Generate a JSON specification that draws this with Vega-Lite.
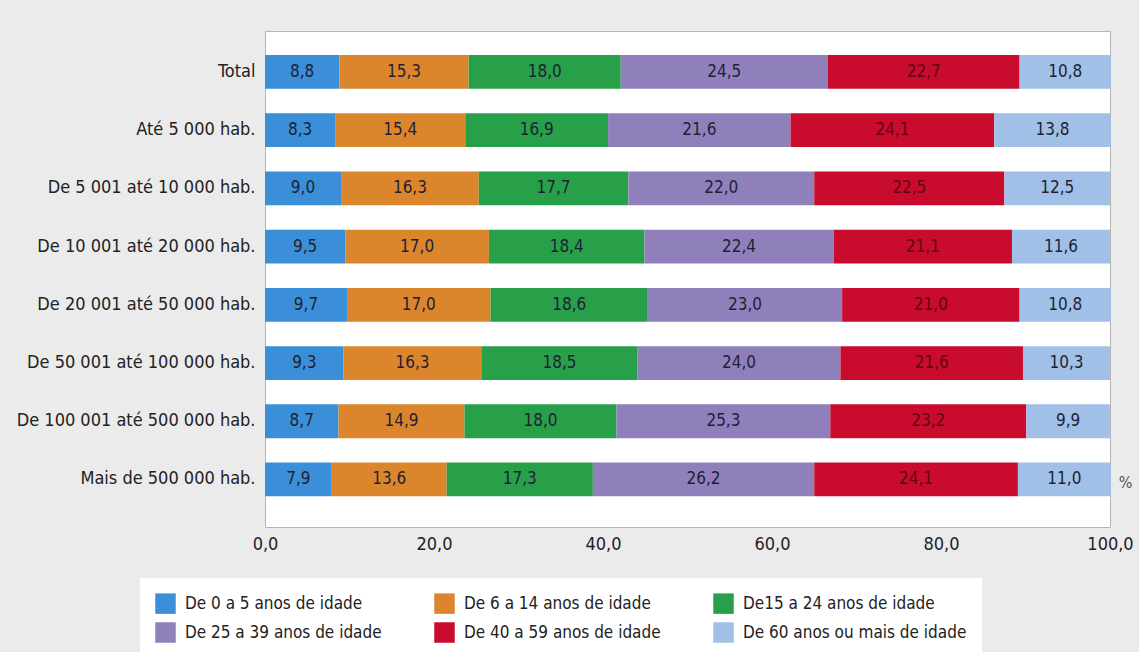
{
  "$schema": "https://vega.github.io/schema/vega-lite/v6.json",
  "autosize": {"type": "none"},
  "width": 845,
  "height": 496,
  "padding": {"left": 265, "top": 31, "right": 29, "bottom": 125},
  "background": "#ebebeb",
  "config": {
    "font": "DejaVu Sans Condensed, sans-serif",
    "locale": {"number": {"decimal": ",", "thousands": " ", "grouping": [3], "currency": ["", ""]}},
    "view": {"fill": "white", "stroke": "#b5b5b5", "strokeWidth": 1}
  },
  "data": {
    "values": [
      {"grupo": "Total", "faixa": "De 0 a 5 anos de idade", "ordem": 1, "valor": 8.8},
      {"grupo": "Total", "faixa": "De 6 a 14 anos de idade", "ordem": 2, "valor": 15.3},
      {"grupo": "Total", "faixa": "De15 a 24 anos de idade", "ordem": 3, "valor": 18.0},
      {"grupo": "Total", "faixa": "De 25 a 39 anos de idade", "ordem": 4, "valor": 24.5},
      {"grupo": "Total", "faixa": "De 40 a 59 anos de idade", "ordem": 5, "valor": 22.7},
      {"grupo": "Total", "faixa": "De 60 anos ou mais de idade", "ordem": 6, "valor": 10.8},
      {"grupo": "Até 5 000 hab.", "faixa": "De 0 a 5 anos de idade", "ordem": 1, "valor": 8.3},
      {"grupo": "Até 5 000 hab.", "faixa": "De 6 a 14 anos de idade", "ordem": 2, "valor": 15.4},
      {"grupo": "Até 5 000 hab.", "faixa": "De15 a 24 anos de idade", "ordem": 3, "valor": 16.9},
      {"grupo": "Até 5 000 hab.", "faixa": "De 25 a 39 anos de idade", "ordem": 4, "valor": 21.6},
      {"grupo": "Até 5 000 hab.", "faixa": "De 40 a 59 anos de idade", "ordem": 5, "valor": 24.1},
      {"grupo": "Até 5 000 hab.", "faixa": "De 60 anos ou mais de idade", "ordem": 6, "valor": 13.8},
      {"grupo": "De 5 001 até 10 000 hab.", "faixa": "De 0 a 5 anos de idade", "ordem": 1, "valor": 9.0},
      {"grupo": "De 5 001 até 10 000 hab.", "faixa": "De 6 a 14 anos de idade", "ordem": 2, "valor": 16.3},
      {"grupo": "De 5 001 até 10 000 hab.", "faixa": "De15 a 24 anos de idade", "ordem": 3, "valor": 17.7},
      {"grupo": "De 5 001 até 10 000 hab.", "faixa": "De 25 a 39 anos de idade", "ordem": 4, "valor": 22.0},
      {"grupo": "De 5 001 até 10 000 hab.", "faixa": "De 40 a 59 anos de idade", "ordem": 5, "valor": 22.5},
      {"grupo": "De 5 001 até 10 000 hab.", "faixa": "De 60 anos ou mais de idade", "ordem": 6, "valor": 12.5},
      {"grupo": "De 10 001 até 20 000 hab.", "faixa": "De 0 a 5 anos de idade", "ordem": 1, "valor": 9.5},
      {"grupo": "De 10 001 até 20 000 hab.", "faixa": "De 6 a 14 anos de idade", "ordem": 2, "valor": 17.0},
      {"grupo": "De 10 001 até 20 000 hab.", "faixa": "De15 a 24 anos de idade", "ordem": 3, "valor": 18.4},
      {"grupo": "De 10 001 até 20 000 hab.", "faixa": "De 25 a 39 anos de idade", "ordem": 4, "valor": 22.4},
      {"grupo": "De 10 001 até 20 000 hab.", "faixa": "De 40 a 59 anos de idade", "ordem": 5, "valor": 21.1},
      {"grupo": "De 10 001 até 20 000 hab.", "faixa": "De 60 anos ou mais de idade", "ordem": 6, "valor": 11.6},
      {"grupo": "De 20 001 até 50 000 hab.", "faixa": "De 0 a 5 anos de idade", "ordem": 1, "valor": 9.7},
      {"grupo": "De 20 001 até 50 000 hab.", "faixa": "De 6 a 14 anos de idade", "ordem": 2, "valor": 17.0},
      {"grupo": "De 20 001 até 50 000 hab.", "faixa": "De15 a 24 anos de idade", "ordem": 3, "valor": 18.6},
      {"grupo": "De 20 001 até 50 000 hab.", "faixa": "De 25 a 39 anos de idade", "ordem": 4, "valor": 23.0},
      {"grupo": "De 20 001 até 50 000 hab.", "faixa": "De 40 a 59 anos de idade", "ordem": 5, "valor": 21.0},
      {"grupo": "De 20 001 até 50 000 hab.", "faixa": "De 60 anos ou mais de idade", "ordem": 6, "valor": 10.8},
      {"grupo": "De 50 001 até 100 000 hab.", "faixa": "De 0 a 5 anos de idade", "ordem": 1, "valor": 9.3},
      {"grupo": "De 50 001 até 100 000 hab.", "faixa": "De 6 a 14 anos de idade", "ordem": 2, "valor": 16.3},
      {"grupo": "De 50 001 até 100 000 hab.", "faixa": "De15 a 24 anos de idade", "ordem": 3, "valor": 18.5},
      {"grupo": "De 50 001 até 100 000 hab.", "faixa": "De 25 a 39 anos de idade", "ordem": 4, "valor": 24.0},
      {"grupo": "De 50 001 até 100 000 hab.", "faixa": "De 40 a 59 anos de idade", "ordem": 5, "valor": 21.6},
      {"grupo": "De 50 001 até 100 000 hab.", "faixa": "De 60 anos ou mais de idade", "ordem": 6, "valor": 10.3},
      {"grupo": "De 100 001 até 500 000 hab.", "faixa": "De 0 a 5 anos de idade", "ordem": 1, "valor": 8.7},
      {"grupo": "De 100 001 até 500 000 hab.", "faixa": "De 6 a 14 anos de idade", "ordem": 2, "valor": 14.9},
      {"grupo": "De 100 001 até 500 000 hab.", "faixa": "De15 a 24 anos de idade", "ordem": 3, "valor": 18.0},
      {"grupo": "De 100 001 até 500 000 hab.", "faixa": "De 25 a 39 anos de idade", "ordem": 4, "valor": 25.3},
      {"grupo": "De 100 001 até 500 000 hab.", "faixa": "De 40 a 59 anos de idade", "ordem": 5, "valor": 23.2},
      {"grupo": "De 100 001 até 500 000 hab.", "faixa": "De 60 anos ou mais de idade", "ordem": 6, "valor": 9.9},
      {"grupo": "Mais de 500 000 hab.", "faixa": "De 0 a 5 anos de idade", "ordem": 1, "valor": 7.9},
      {"grupo": "Mais de 500 000 hab.", "faixa": "De 6 a 14 anos de idade", "ordem": 2, "valor": 13.6},
      {"grupo": "Mais de 500 000 hab.", "faixa": "De15 a 24 anos de idade", "ordem": 3, "valor": 17.3},
      {"grupo": "Mais de 500 000 hab.", "faixa": "De 25 a 39 anos de idade", "ordem": 4, "valor": 26.2},
      {"grupo": "Mais de 500 000 hab.", "faixa": "De 40 a 59 anos de idade", "ordem": 5, "valor": 24.1},
      {"grupo": "Mais de 500 000 hab.", "faixa": "De 60 anos ou mais de idade", "ordem": 6, "valor": 11.0}
    ]
  },
  "transform": [
    {"stack": "valor", "groupby": ["grupo"], "sort": [{"field": "ordem", "order": "ascending"}], "as": ["x0", "x1"]},
    {"calculate": "(datum.x0 + datum.x1) / 2", "as": "xm"}
  ],
  "encoding": {
    "y": {
      "field": "grupo",
      "type": "nominal",
      "sort": null,
      "title": null,
      "scale": {"paddingInner": 0.42, "paddingOuter": 0.47, "align": 0.44},
      "axis": {"ticks": false, "domain": false, "labelFontSize": 18, "labelColor": "#222", "labelPadding": 10, "labelLimit": 300}
    }
  },
  "layer": [
    {
      "mark": {"type": "bar"},
      "encoding": {
        "x": {
          "field": "x0",
          "type": "quantitative",
          "scale": {"domain": [0, 100], "nice": false},
          "title": "%",
          "axis": {
            "values": [0, 20, 40, 60, 80, 100],
            "format": ".1f",
            "grid": false,
            "ticks": false,
            "domain": false,
            "labelFontSize": 18,
            "labelColor": "#222",
            "labelPadding": 8,
            "labelFlush": false,
            "titleFontSize": 16,
            "titleFontWeight": "normal",
            "titleColor": "#555",
            "titleAngle": 0,
            "titleX": 860,
            "titleY": -45,
            "titleAlign": "center",
            "titleBaseline": "middle"
          }
        },
        "x2": {"field": "x1"},
        "color": {
          "field": "faixa",
          "type": "nominal",
          "sort": ["De 0 a 5 anos de idade", "De 6 a 14 anos de idade", "De15 a 24 anos de idade", "De 25 a 39 anos de idade", "De 40 a 59 anos de idade", "De 60 anos ou mais de idade"],
          "scale": {
            "domain": ["De 0 a 5 anos de idade", "De 6 a 14 anos de idade", "De15 a 24 anos de idade", "De 25 a 39 anos de idade", "De 40 a 59 anos de idade", "De 60 anos ou mais de idade"],
            "range": ["#3b8fd8", "#db862c", "#28a04a", "#8f7fbb", "#c90b2d", "#a0c0e8"]
          },
          "legend": {
            "title": null,
            "orient": "none",
            "legendX": -125,
            "legendY": 547,
            "direction": "horizontal",
            "columns": 3,
            "gridAlign": "all",
            "symbolType": "square",
            "symbolSize": 420,
            "symbolStrokeWidth": 0,
            "symbolOpacity": 1,
            "labelFontSize": 17,
            "labelColor": "#222",
            "labelOffset": 9,
            "labelLimit": 260,
            "columnPadding": 25,
            "rowPadding": 8,
            "fillColor": "white",
            "padding": 15
          }
        }
      }
    },
    {
      "mark": {"type": "text", "fontSize": 17, "baseline": "middle", "align": "center"},
      "encoding": {
        "x": {"field": "xm", "type": "quantitative"},
        "text": {"field": "valor", "type": "quantitative", "format": ".1f"},
        "color": {"condition": {"test": "datum.ordem == 5", "value": "#5e0614"}, "value": "#1f1f33"}
      }
    }
  ]
}
